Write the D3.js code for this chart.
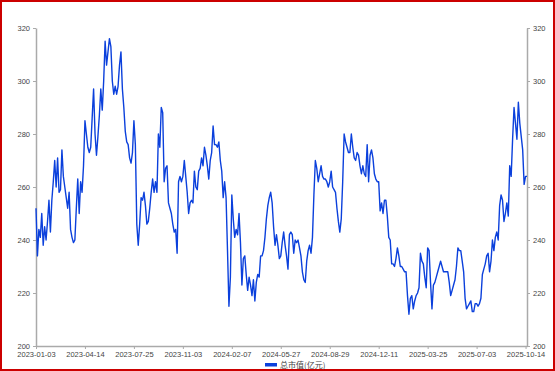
<!DOCTYPE html>
<html>
<head>
<meta charset="utf-8">
<script src="https://cdn.jsdelivr.net/npm/d3@7"></script>
<style>
  body { margin: 0; background: #fff; }
  svg { display: block; }
  .axis text { font-family: "Liberation Sans", Arial, sans-serif; font-size: 7.5px; fill: #444; }
  .axis path, .axis line { stroke: #aaa; }
  .legend text { font-family: "Noto Sans CJK SC", sans-serif; font-size: 8px; fill: #444; }
</style>
</head>
<body>
<div id="chart"></div>
<script>
// x axis labels, one every 34 points (each point ~2 trading days)
var tickLabels = ["2023-01-03", "2023-04-14", "2023-07-25", "2023-11-03", "2024-02-07",
                  "2024-05-27", "2024-08-29", "2024-12-11", "2025-03-25", "2025-07-03", "2025-10-14"];
var tickStep = 34;
var yTicks = [200, 220, 240, 260, 280, 300, 320];
var seriesName = "总市值(亿元)";

// total market value
var values = [
  252, 234, 244, 241, 250, 238, 245, 240, 247, 255,
  243, 255, 262, 270, 260, 271, 258, 259, 274, 264,
  260, 256, 252, 258, 244, 241, 239, 240, 252, 263,
  250, 262, 258, 268, 285, 280, 275, 273, 275, 286,
  297, 280, 272, 279, 287, 297, 289, 300, 315, 306,
  311, 316, 313, 300, 295, 298, 295, 298, 306, 311,
  297, 290, 281, 277, 276, 271, 269, 273, 285, 276,
  246, 238, 246, 256, 255, 258, 253, 246, 247, 252,
  258, 263, 258, 262, 258, 280, 275, 290, 288, 262,
  267, 268, 254, 252, 250, 246, 243, 244, 235, 262,
  264, 262, 264, 270, 264, 258, 250, 254, 255, 254,
  266, 260, 259, 266, 267, 271, 268, 275, 272, 268,
  263, 270, 273, 283, 276, 276, 275, 277, 270, 266,
  256, 262, 256, 236, 215, 226, 257, 248, 241, 244,
  242, 250, 239, 223, 233, 234, 227, 221, 226, 223,
  219, 225, 217, 224, 227, 226, 234, 234, 236, 241,
  248, 253, 256, 258, 254, 245, 238, 242, 238, 233,
  234, 239, 243, 238, 234, 229, 242, 243, 242, 235,
  240, 239, 240, 237, 234, 228, 225, 224, 232, 236,
  238, 235, 241, 257, 270, 267, 262, 265, 268, 264,
  263, 263, 262, 260, 262, 266, 260, 259, 258, 252,
  247, 243, 248, 262, 280, 277, 275, 273, 273, 280,
  275, 271, 270, 273, 272, 268, 265, 268, 265, 264,
  276, 262, 272, 274, 271, 265, 263, 262, 262, 251,
  254, 250, 255, 255, 249, 241, 240, 231, 231, 230,
  233, 237, 234, 230, 230, 229, 228, 228, 219, 212,
  218, 219, 214, 217, 219, 220, 222, 235, 232, 231,
  226, 222, 237, 236, 224, 214, 223, 224, 226, 228,
  230, 232, 230, 228, 228, 228, 228, 224, 219, 221,
  223, 225, 230, 237, 236, 236, 232, 228, 218, 214,
  215, 216, 217, 213, 213, 216, 216, 215, 216, 218,
  227, 229, 231, 234, 235, 228, 232, 240, 236, 241,
  243, 240, 253, 257, 255, 247, 250, 254, 249, 268,
  264, 278, 290, 284, 278, 292, 284, 279, 274, 261,
  264, 264
];

var W = 555, H = 371;
var margin = {top: 28, right: 28, bottom: 25, left: 36},
    width = W - margin.left - margin.right,
    height = H - margin.top - margin.bottom;

var svg = d3.select("#chart").append("svg")
    .attr("width", W)
    .attr("height", H);

// red frame round the picture
svg.append("rect")
    .attr("x", 1).attr("y", 1)
    .attr("width", W - 2).attr("height", H - 2)
    .attr("fill", "none")
    .attr("stroke", "#cc0000")
    .attr("stroke-width", 2);

var g = svg.append("g")
    .attr("transform", "translate(" + margin.left + "," + margin.top + ")");

var x = d3.scaleLinear()
    .domain([0, values.length - 1])
    .range([0, width]);
var y = d3.scaleLinear()
    .domain([200, 320])
    .range([height, 0]);

// axes
g.append("g")
    .attr("class", "axis")
    .attr("transform", "translate(0," + height + ")")
    .call(d3.axisBottom(x)
      .tickValues(tickLabels.map(function(d, i) { return i * tickStep; }))
      .tickFormat(function(d, i) { return tickLabels[i]; })
      .tickSize(3).tickSizeOuter(0).tickPadding(3));

g.append("g")
    .attr("class", "axis")
    .call(d3.axisLeft(y).tickValues(yTicks).tickSize(3).tickSizeOuter(0).tickPadding(3));

g.append("g")
    .attr("class", "axis")
    .attr("transform", "translate(" + width + ",0)")
    .call(d3.axisRight(y).tickValues(yTicks).tickSize(3).tickSizeOuter(0).tickPadding(3));

g.selectAll(".axis path").attr("stroke-width", 1.5);

// the line
var line = d3.line()
    .x(function(d, i) { return x(i); })
    .y(function(d) { return y(d); });

g.append("path")
    .datum(values)
    .attr("fill", "none")
    .attr("stroke", "#0b40dc")
    .attr("stroke-width", 1.4)
    .attr("stroke-linejoin", "round")
    .attr("d", line);

// legend
var legend = svg.append("g").attr("class", "legend")
    .attr("transform", "translate(265,365)");
legend.append("rect")
    .attr("x", 0).attr("y", -2)
    .attr("width", 12).attr("height", 3.5)
    .attr("fill", "#0b40dc");
legend.append("text")
    .attr("x", 15).attr("y", 3)
    .text(seriesName);
</script>
</body>
</html>
